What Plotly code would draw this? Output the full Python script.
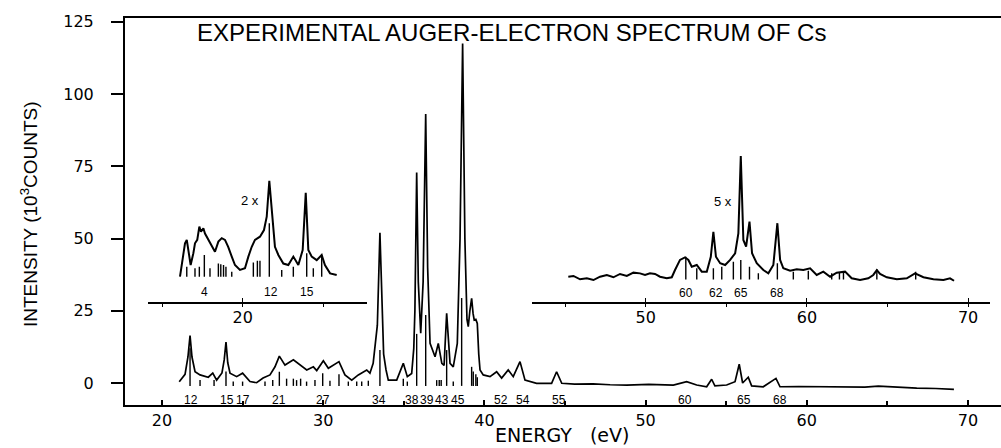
import plotly.graph_objects as go

# ---------------- main spectrum (energy eV, intensity 10^3 counts) ----------------
main_E = [21.07, 21.43, 21.61, 21.74, 21.86, 22.05, 22.36, 22.87, 23.15, 23.39, 23.72, 23.86, 23.97,
          24.08, 24.22, 24.63, 25.0, 25.46, 25.87, 26.27, 26.7, 27.01, 27.28, 27.63, 28.15, 28.56,
          28.98, 29.39, 29.6, 30.01, 30.32, 30.98, 31.35, 31.77, 32.18, 32.7, 32.9, 33.1, 33.21,
          33.36, 33.52, 33.66, 33.75, 33.9, 34.04, 34.56, 34.97, 35.22, 35.49, 35.62, 35.69, 35.8,
          35.9, 36.05, 36.2, 36.36, 36.48, 36.63, 36.94, 37.14, 37.36, 37.5, 37.66, 37.87, 38.07,
          38.32, 38.49, 38.65, 38.79, 38.92, 39.0, 39.1, 39.21, 39.3, 39.37, 39.47, 39.56, 39.65,
          39.73, 39.93, 40.35, 40.76, 41.07, 41.48, 41.79, 42.21, 42.52, 43.24, 44.17, 44.48, 44.8,
          45.6, 46.74, 47.8, 48.83, 50.2, 51.72, 52.55, 53.17, 53.79, 54.1, 54.3, 55.03, 55.55,
          55.81, 56.02, 56.37, 56.58, 57.3, 58.09, 58.34, 59.5, 60.61, 61.7, 62.68, 63.6, 64.44,
          65.6, 66.82, 68.0, 69.13]
main_I = [0.45, 3.0, 9.0, 16.4, 9.0, 3.9, 2.8, 2.0, 3.4, 1.0, 3.5, 8.0, 14.2,
          7.0, 3.4, 2.2, 3.4, 0.5, 0.1, 1.7, 2.8, 5.6, 9.3, 6.2, 8.0, 6.2,
          4.5, 5.6, 4.3, 7.7, 5.1, 7.4, 2.8, 1.0, 2.8, 4.5, 3.4, 6.8, 12.0,
          20.0, 52.0, 20.0, 10.0, 4.5, 1.0, 1.0, 6.8, 2.2, 3.3, 12.0, 25.0, 72.8,
          35.0, 17.2, 35.0, 93.1, 40.0, 13.7, 9.1, 13.7, 6.8, 6.1, 24.1, 6.8, 5.6,
          13.7, 50.0, 117.5, 50.0, 22.0, 19.5, 25.0, 29.3, 24.0, 21.8, 22.0, 20.6, 10.0,
          4.5, 2.8, 2.2, 3.9, 1.7, 4.5, 2.2, 7.4, 1.0, -0.1, -0.1, 3.9, -0.1,
          -0.4, -0.3, -0.6, -0.7, -0.5, -0.7, 0.45, -0.7, -1.3, 1.3, -1.0, -0.7, 0.45,
          6.5, 0.0, 2.0, -1.0, -1.3, 1.6, -1.3, -1.2, -1.3, -1.4, -1.5, -1.4, -1.1,
          -1.5, -1.8, -1.9, -2.2]

# theoretical line positions under the main spectrum
stick_E = [21.74, 22.36, 23.23, 23.97, 24.42, 25.0, 26.39, 26.87, 27.28, 27.73, 28.15, 28.35, 28.6,
           28.97, 29.49, 29.97, 30.42, 30.98, 31.56, 32.08, 32.39, 32.8, 33.52, 34.97, 35.22, 35.8,
           36.36, 37.04, 37.2, 37.32, 37.66, 38.07, 38.59, 39.21, 39.31, 39.47, 39.56]
stick_top = [12.0, 1.0, 1.0, 4.0, 0.5, 0.5, 0.5, 1.0, 3.9, 1.5, 1.5, 1.0, 1.5,
             0.5, 1.0, 3.4, 0.8, 3.0, 0.5, 0.5, 0.5, 0.8, 11.4, 1.5, 0.5, 17.0,
             23.5, 1.0, 1.0, 1.0, 11.4, 0.5, 29.4, 5.6, 4.0, 3.0, 2.0]
stick_base = -1.0

line_labels = ["12", "15", "17", "21", "27", "34", "38", "39", "43", "45", "52", "54", "55", "60", "65", "68"]
label_E = [21.8, 24.03, 25.02, 27.26, 29.99, 33.46, 35.51, 36.44, 37.37, 38.36, 41.04, 42.41, 44.64,
           52.45, 56.1, 58.34]

# ---------------- inset 1 (2x, energy axis shifted) ----------------
in1_E = [16.11, 16.22, 16.32, 16.42, 16.53, 16.67, 16.77, 16.94, 17.04, 17.18, 17.31, 17.41, 17.56,
         17.66, 17.87, 18.08, 18.28, 18.49, 18.7, 18.9, 19.1, 19.32, 19.52, 19.83, 20.14, 20.35,
         20.56, 20.76, 21.07, 21.32, 21.49, 21.65, 21.82, 22.0, 22.21, 22.52, 22.83, 23.14, 23.45,
         23.72, 23.91, 24.07, 24.28, 24.59, 24.9, 25.1, 25.42, 25.83]
in1_I = [-0.17, 1.85, 3.58, 5.6, 6.2, 3.9, 1.85, 3.9, 5.6, 6.2, 8.5, 7.6, 8.2,
         7.3, 6.2, 5.0, 4.15, 5.9, 6.5, 6.2, 5.0, 3.3, 1.85, 0.99, 1.28, 3.3,
         5.0, 6.2, 6.75, 7.9, 10.2, 16.4, 10.2, 5.0, 3.58, 2.1, 1.85, 3.3, 1.85,
         4.45, 14.36, 4.45, 3.3, 2.7, 3.58, 1.85, 0.4, 0.12]
in1_stick_E = [16.53, 17.04, 17.31, 17.62, 17.97, 18.49, 18.64, 18.81, 18.96, 19.32, 20.66, 20.91,
               21.07, 21.65, 22.42, 23.14, 23.97, 24.38, 24.9]
in1_stick_top = [1.56, 1.28, 1.56, 3.58, 1.28, 2.1, 2.0, 1.85, 1.56, 0.7, 2.27, 2.6,
                 2.6, 9.07, 1.0, 1.56, 3.9, 1.28, 3.58]
in1_stick_base = -0.17
in1_labels = ["4", "12", "15"]
in1_label_E = [17.66, 21.74, 23.97]

# ---------------- inset 2 (5x) ----------------
in2_E = [45.2, 45.52, 45.93, 46.35, 46.76, 47.17, 47.59, 48.0, 48.41, 48.83, 49.24, 49.65, 49.96,
         50.27, 50.58, 50.89, 51.31, 51.62, 51.82, 52.13, 52.44, 52.65, 52.86, 53.17, 53.48, 53.79,
         54.04, 54.2, 54.36, 54.62, 54.93, 55.24, 55.55, 55.75, 55.9, 56.06, 56.23, 56.44, 56.6,
         56.89, 57.3, 57.61, 57.92, 58.05, 58.17, 58.34, 58.54, 58.96, 59.37, 59.78, 60.2, 60.61,
         61.02, 61.44, 61.85, 62.37, 62.78, 63.3, 63.81, 64.12, 64.34, 64.54, 64.96, 65.58, 66.2,
         66.71, 67.23, 67.85, 68.47, 68.88, 69.13]
in2_I = [-0.81, -0.76, -0.99, -0.92, -1.04, -0.81, -0.69, -0.85, -0.62, -0.76, -0.53, -0.58, -0.69,
         -0.58, -0.62, -0.81, -0.92, -0.85, -0.35, 0.35, 0.53, 0.35, -0.12, 0.0, -0.46, -0.46,
         0.57, 2.3, 0.57, 0.12, 0.0, 0.35, 0.81, 2.19, 7.54, 1.73, 1.27, 3.0, 0.81,
         0.12, -0.35, -0.58, 0.0, 1.27, 2.89, 0.35, -0.23, -0.39, -0.3, -0.35, -0.23, -0.69,
         -0.46, -0.81, -0.53, -0.46, -0.92, -1.04, -0.92, -0.69, -0.35, -0.62, -0.85, -0.99, -0.92,
         -0.58, -0.85, -0.99, -1.04, -0.92, -1.09]
in2_stick_E = [52.49, 53.17, 54.2, 54.72, 55.44, 55.9, 56.44, 56.99, 58.17, 59.16, 60.09, 61.54,
               62.02, 62.27, 64.34, 66.75]
in2_stick_top = [0.57, -0.23, -0.23, -0.12, 0.23, 0.35, -0.12, -0.58, 0.12, -0.46, -0.39, -0.58,
                 -0.5, -0.5, -0.3, -0.46]
in2_stick_base = -1.0
in2_labels = ["60", "62", "65", "68"]
in2_label_E = [52.49, 54.37, 55.9, 58.17]

main_xticks = [20, 30, 40, 50, 60, 70]
main_yticks = [0, 25, 50, 75, 100, 125]
in1_ticks = [20]
in2_ticks = [50, 60, 70]


def sticks(es, tops, base):
    xs, ys = [], []
    for e, t in zip(es, tops):
        xs += [e, e, None]
        ys += [base, t, None]
    return xs, ys


W, H = 1001, 448
L, R, T, B = 125, 0, 18, 43
pw, ph = W - L - R, H - T - B


def fx(px):
    return (px - L) / pw


def fy(py):
    return (H - B - py) / ph


AX_FONT = dict(family="DejaVu Sans, Verdana, sans-serif", size=16, color="black")
LBL_FONT = dict(family="Liberation Sans, Arial, sans-serif", size=12, color="black")

fig = go.Figure()
fig.add_trace(go.Scatter(x=main_E, y=main_I, mode="lines", line=dict(color="black", width=1.7),
                         xaxis="x", yaxis="y", hoverinfo="skip"))
sx, sy = sticks(stick_E, stick_top, stick_base)
fig.add_trace(go.Scatter(x=sx, y=sy, mode="lines", line=dict(color="black", width=1.4),
                         xaxis="x", yaxis="y", hoverinfo="skip"))

fig.add_trace(go.Scatter(x=in1_E, y=in1_I, mode="lines", line=dict(color="black", width=2),
                         xaxis="x2", yaxis="y2", hoverinfo="skip"))
sx, sy = sticks(in1_stick_E, in1_stick_top, in1_stick_base)
fig.add_trace(go.Scatter(x=sx, y=sy, mode="lines", line=dict(color="black", width=1.4),
                         xaxis="x2", yaxis="y2", hoverinfo="skip"))

fig.add_trace(go.Scatter(x=in2_E, y=in2_I, mode="lines", line=dict(color="black", width=2),
                         xaxis="x3", yaxis="y3", hoverinfo="skip"))
sx, sy = sticks(in2_stick_E, in2_stick_top, in2_stick_base)
fig.add_trace(go.Scatter(x=sx, y=sy, mode="lines", line=dict(color="black", width=1.4),
                         xaxis="x3", yaxis="y3", hoverinfo="skip"))

annotations = []
for t, e in zip(line_labels, label_E):
    annotations.append(dict(x=e, y=-5.9, xref="x", yref="y", text=t, showarrow=False,
                            font=LBL_FONT, xanchor="center", yanchor="middle"))
for t, e in zip(in1_labels, in1_label_E):
    annotations.append(dict(x=e, y=-2.77, xref="x2", yref="y2", text=t, showarrow=False,
                            font=LBL_FONT, xanchor="center", yanchor="middle"))
for t, e in zip(in2_labels, in2_label_E):
    annotations.append(dict(x=e, y=-1.97, xref="x3", yref="y3", text=t, showarrow=False,
                            font=LBL_FONT, xanchor="center", yanchor="middle"))
annotations.append(dict(x=20.45, y=12.98, xref="x2", yref="y2", text="2 x", showarrow=False,
                        font=dict(family="Liberation Sans, Arial, sans-serif", size=13, color="black"),
                        xanchor="center", yanchor="middle"))
annotations.append(dict(x=54.82, y=4.38, xref="x3", yref="y3", text="5 x", showarrow=False,
                        font=dict(family="Liberation Sans, Arial, sans-serif", size=13, color="black"),
                        xanchor="center", yanchor="middle"))
annotations.append(dict(x=fx(195), y=fy(33), xref="paper", yref="paper",
                        text="EXPERIMENTAL AUGER-ELECTRON SPECTRUM OF Cs", showarrow=False,
                        font=dict(family="Liberation Sans, Arial, sans-serif", size=24, color="black"),
                        xanchor="left", yanchor="middle"))
annotations.append(dict(x=fx(562), y=fy(435), xref="paper", yref="paper",
                        text="ENERGY&nbsp;&nbsp;&nbsp;(eV)", showarrow=False,
                        font=dict(family="DejaVu Sans, Verdana, sans-serif", size=19, color="black"),
                        xanchor="center", yanchor="middle"))
annotations.append(dict(x=fx(29), y=fy(214), xref="paper", yref="paper",
                        text="INTENSITY (10<sup>3</sup>COUNTS)", showarrow=False, textangle=-90,
                        font=dict(family="Liberation Sans, Arial, sans-serif", size=19, color="black"),
                        xanchor="center", yanchor="middle"))

ins_bottom = fy(301.7)

fig.update_layout(
    width=W, height=H, margin=dict(l=L, r=R, t=T, b=B, pad=0),
    paper_bgcolor="white", plot_bgcolor="white", showlegend=False,
    annotations=annotations,
    xaxis=dict(range=[17.705, 72.05], domain=[0, 1], anchor="y", showline=True, mirror=True,
               linecolor="black", linewidth=2, ticks="inside", ticklen=5, tickwidth=1.5,
               tickcolor="black", tickvals=main_xticks, tickfont=AX_FONT, showgrid=False,
               zeroline=False, ticklabelstandoff=0,
               minor=dict(ticks="inside", ticklen=4, tickwidth=1.5, tickcolor="black", dtick=5,
                          tick0=0, showgrid=False)),
    yaxis=dict(range=[-7.61, 126.3], domain=[0, 1], anchor="x", showline=True, mirror=False,
               linecolor="black", linewidth=2, ticks="outside", ticklen=12, tickwidth=1.5,
               tickcolor="black", tickvals=main_yticks, tickfont=AX_FONT, showgrid=False,
               zeroline=False, ticklabelstandoff=14),
    xaxis2=dict(range=[14.125, 27.71], domain=[fx(148), fx(367)], anchor="y2", showline=True,
                linecolor="black", linewidth=1.5, ticks="inside", ticklen=4, tickwidth=1.2,
                tickcolor="black", tickvals=in1_ticks, tickfont=AX_FONT,
                showgrid=False, zeroline=False,
                minor=dict(ticks="outside", ticklen=4, tickwidth=1.2, tickcolor="black", dtick=5,
                           tick0=0, showgrid=False)),
    yaxis2=dict(range=[-4.5, 44.58], domain=[ins_bottom, 1], anchor="x2", visible=False),
    xaxis3=dict(range=[42.93, 71.36], domain=[fx(531.7), fx(990)], anchor="y3", showline=True,
                linecolor="black", linewidth=1.5, ticks="inside", ticklen=4, tickwidth=1.2,
                tickcolor="black", tickvals=in2_ticks, tickfont=AX_FONT,
                showgrid=False, zeroline=False,
                minor=dict(ticks="outside", ticklen=4, tickwidth=1.2, tickcolor="black", dtick=5,
                           tick0=0, showgrid=False)),
    yaxis3=dict(range=[-2.54, 17.09], domain=[ins_bottom, 1], anchor="x3", visible=False),
)

fig.write_html("out.html")
